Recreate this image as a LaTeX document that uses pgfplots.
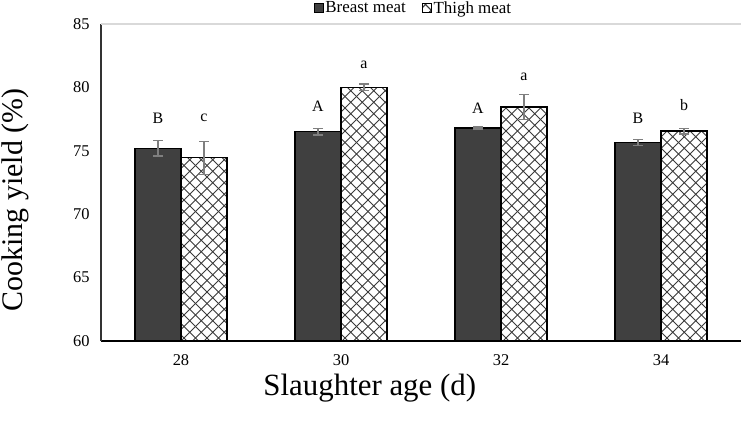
\documentclass[border=0pt]{standalone}
\usepackage{fontspec}
\setmainfont{Liberation Serif}
\usepackage{pgfplots}
\usepackage{pgfplotstable}
\pgfplotsset{compat=1.18}
\usetikzlibrary{patterns.meta}
\definecolor{darkbar}{HTML}{404040}
\definecolor{errgray}{HTML}{7F7F7F}
\definecolor{hatch}{HTML}{3A3A3A}
\tikzdeclarepattern{
  name=diamonds,
  type=colored,
  bottom left={(-1bp,-1bp)},
  top right={(12.5bp,12.5bp)},
  tile size={(11.5bp,11.5bp)},
  code={
    \draw[line width=0.9bp, draw=hatch] (0,0) -- (11.5bp,11.5bp) (0,11.5bp) -- (11.5bp,0);
  }
}
\pgfplotstableread{
x y e
-0.14375 75.2 0.6
0.85625 76.5 0.25
1.85625 76.8 0.08
2.85625 75.65 0.25
}\breast
\pgfplotstableread{
x y e
0.14375 74.45 1.3
1.14375 80.0 0.25
2.14375 78.45 1.0
3.14375 76.55 0.22
}\thigh
\pgfplotstableread{
x top lab
-0.14375 76.01 B
0.85625 76.96 A
1.85625 76.80 A
2.85625 76.01 B
0.14375 76.01 c
1.14375 80.19 a
2.14375 79.24 a
3.14375 77.03 b
}\letters
\begin{document}
\begin{tikzpicture}
\useasboundingbox (-101bp,-89bp) rectangle (641bp,341bp);
\begin{axis}[
  at={(0,0)}, anchor=south west,
  scale only axis, width=640bp, height=317bp,
  xmin=-0.5, xmax=3.5, ymin=60, ymax=85,
  xtick={0,1,2,3}, xticklabels={28,30,32,34},
  ytick={60,65,70,75,80,85},
  major tick length=0pt,
  axis x line*=bottom, axis y line*=left,
  x axis line style={-, black, line width=1.5bp},
  y axis line style={-, black!80, line width=1.8bp},
  /pgf/number format/assume math mode=true,
  tick label style={font=\fontsize{16.5}{18}\selectfont},
  yticklabel style={xshift=-8bp},
  xticklabel style={yshift=-10bp},
  xlabel={Slaughter age (d)},
  ylabel={Cooking yield (\%)},
  every axis x label/.style={at={(axis description cs:0.42,0)}, anchor=center, yshift=-47bp, font=\fontsize{31}{34}\selectfont},
  every axis y label/.style={at={(axis description cs:0,0.445)}, anchor=center, xshift=-86bp, rotate=90, font=\fontsize{30}{33}\selectfont},
  clip=false,
  legend columns=2,
  legend style={at={(axis description cs:0.488,1)}, anchor=center, yshift=16bp, draw=none, fill=none,
    font=\fontsize{17}{19}\selectfont, /tikz/every even column/.append style={column sep=14bp},
    inner sep=0pt},
  legend cell align=left,
]
\addplot[ybar, bar width=46bp, bar shift=0pt, fill=darkbar, draw=black, line width=1.3bp,
  legend image code/.code={\draw[fill=darkbar, draw=black, line width=0.8bp] (0bp,-4.5bp) rectangle (9bp,4.5bp);},
  error bars/.cd, y dir=both, y explicit, error mark=none,
  error bar style={errgray, line width=1.5bp, solid}]
  table[x=x, y=y, y error=e] {\breast};
\addlegendentry{Breast meat}
\addplot[ybar, bar width=46bp, bar shift=0pt, fill=white, postaction={pattern=diamonds}, draw=black, line width=1.3bp,
  legend image code/.code={\draw[fill=white, postaction={pattern=diamonds}, draw=black, line width=0.8bp] (0bp,-4.5bp) rectangle (9bp,4.5bp);},
  error bars/.cd, y dir=both, y explicit, error mark=none,
  error bar style={errgray, line width=1.5bp, solid}]
  table[x=x, y=y, y error=e] {\thigh};
\addlegendentry{Thigh meat}
% error bar caps
\addplot[forget plot, only marks, mark=-, mark size=5bp, mark options={errgray, line width=1.5bp, solid}]
  table[x=x, y expr=\thisrow{y}+\thisrow{e}] {\breast};
\addplot[forget plot, only marks, mark=-, mark size=5bp, mark options={errgray, line width=1.5bp, solid}]
  table[x=x, y expr=\thisrow{y}-\thisrow{e}] {\breast};
\addplot[forget plot, only marks, mark=-, mark size=5bp, mark options={errgray, line width=1.5bp, solid}]
  table[x=x, y expr=\thisrow{y}+\thisrow{e}] {\thigh};
\addplot[forget plot, only marks, mark=-, mark size=5bp, mark options={errgray, line width=1.5bp, solid}]
  table[x=x, y expr=\thisrow{y}-\thisrow{e}] {\thigh};
% significance letters
\addplot[draw=none, mark=none, forget plot, nodes near coords, point meta=explicit symbolic,
  every node near coord/.style={anchor=center, yshift=20bp, font=\fontsize{16}{18}\selectfont, text=black}]
  table[x=x, y=top, meta=lab] {\letters};
\draw[black!15, line width=1.5bp] (rel axis cs:0,1) -- (rel axis cs:1,1);
\end{axis}
\end{tikzpicture}
\end{document}
